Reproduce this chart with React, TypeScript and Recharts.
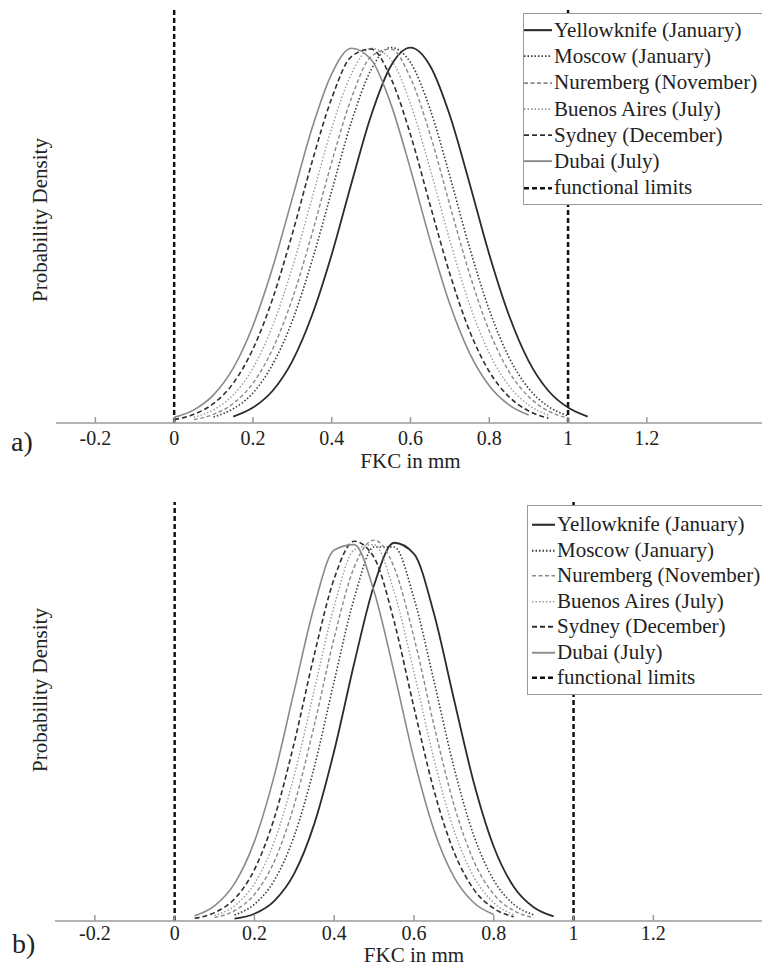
import { LineChart, Line, XAxis, YAxis, ReferenceLine } from "recharts";

const fkc = [0, 0.05, 0.1, 0.15, 0.2, 0.25, 0.3, 0.35, 0.4, 0.45, 0.5, 0.55, 0.6, 0.65, 0.7, 0.75, 0.8, 0.85, 0.9, 0.95, 1, 1.05, 1.1];
const xTicks = [-0.2, 0, 0.2, 0.4, 0.6, 0.8, 1, 1.2];
const functionalLimits = [0, 1];
const cityNames = [
  "Yellowknife (January)",
  "Moscow (January)",
  "Nuremberg (November)",
  "Buenos Aires (July)",
  "Sydney (December)",
  "Dubai (July)",
];
const _ = null;

// panel a) - relative probability density
const yellowknifeA = [_, _, _, 0.017, 0.041, 0.086, 0.165, 0.287, 0.449, 0.638, 0.819, 0.951, 1.0, 0.951, 0.819, 0.638, 0.449, 0.287, 0.165, 0.086, 0.041, 0.017, _];
const moscowA = [_, _, 0.016, 0.038, 0.08, 0.156, 0.272, 0.432, 0.618, 0.802, 0.941, 1.0, 0.96, 0.835, 0.657, 0.467, 0.301, 0.175, 0.092, 0.044, 0.019, _, _];
const nurembergA = [_, 0.009, 0.023, 0.052, 0.106, 0.197, 0.331, 0.504, 0.695, 0.865, 0.976, 0.996, 0.919, 0.768, 0.58, 0.397, 0.245, 0.137, 0.07, 0.032, 0.013, _, _];
const buenosAiresA = [_, 0.015, 0.035, 0.075, 0.146, 0.259, 0.414, 0.599, 0.785, 0.93, 0.998, 0.968, 0.85, 0.676, 0.486, 0.316, 0.186, 0.099, 0.048, 0.021, _, _, _];
const sydneyA = [0.009, 0.023, 0.052, 0.106, 0.197, 0.331, 0.504, 0.695, 0.865, 0.976, 0.996, 0.919, 0.768, 0.58, 0.397, 0.245, 0.137, 0.07, 0.032, 0.013, _, _, _];
const dubaiA = [0.015, 0.035, 0.075, 0.146, 0.259, 0.414, 0.599, 0.785, 0.93, 0.998, 0.968, 0.85, 0.676, 0.486, 0.316, 0.186, 0.099, 0.048, 0.021, _, _, _, _];

// panel b)
const yellowknifeB = [_, _, _, 0.006, 0.019, 0.053, 0.125, 0.255, 0.447, 0.676, 0.882, 0.993, 0.964, 0.807, 0.583, 0.363, 0.195, 0.09, 0.036, 0.012, _, _, _];
const moscowB = [_, _, _, 0.016, 0.044, 0.107, 0.224, 0.404, 0.63, 0.847, 0.982, 0.982, 0.847, 0.63, 0.404, 0.224, 0.107, 0.044, 0.016, _, _, _, _];
const nurembergB = [_, _, 0.009, 0.027, 0.07, 0.157, 0.306, 0.514, 0.744, 0.929, 1.0, 0.929, 0.744, 0.514, 0.306, 0.157, 0.07, 0.027, 0.009, _, _, _, _];
const buenosAiresB = [_, _, 0.014, 0.04, 0.098, 0.209, 0.383, 0.606, 0.827, 0.974, 0.988, 0.865, 0.653, 0.425, 0.239, 0.116, 0.048, 0.017, _, _, _, _, _];
const sydneyB = [_, 0.007, 0.022, 0.058, 0.135, 0.271, 0.469, 0.699, 0.899, 0.997, 0.954, 0.787, 0.56, 0.343, 0.182, 0.083, 0.033, 0.011, _, _, _, _, _];
const dubaiB = [_, 0.014, 0.04, 0.098, 0.209, 0.383, 0.606, 0.827, 0.974, 0.988, 0.865, 0.653, 0.425, 0.239, 0.116, 0.048, 0.017, _, _, _, _, _, _];

const keys = ["yellowknife", "moscow", "nuremberg", "buenosAires", "sydney", "dubai"];

const lineStyles = [
  { stroke: "#2b2b2b", width: 1.8, dash: undefined },
  { stroke: "#3a3a3a", width: 1.6, dash: "1.5 2" },
  { stroke: "#8a8a8a", width: 1.4, dash: "4 2.5" },
  { stroke: "#9a9a9a", width: 1.4, dash: "1.5 2" },
  { stroke: "#2f2f2f", width: 1.6, dash: "5 3" },
  { stroke: "#8a8a8a", width: 1.6, dash: undefined },
];

const FONT = '"Liberation Serif", "Times New Roman", serif';
const AXIS = "#9a9a9a";

function toRows(series: (number | null)[][]) {
  return fkc.map((x, i) => {
    const row: Record<string, number | null> = { fkc: x };
    keys.forEach((k, j) => {
      row[k] = series[j][i];
    });
    return row;
  });
}

type LegendProps = { left: number; top: number; rowH: number; padTop: number; padLeft: number; sampleW: number };

const LegendBox = ({ left, top, rowH, padTop, padLeft, sampleW }: LegendProps) => (
  <div
    style={{
      position: "absolute",
      left,
      top,
      width: 300,
      background: "#fff",
      border: "1px solid #999",
      padding: `${padTop}px 0 3px ${padLeft}px`,
      boxSizing: "border-box",
    }}
  >
    {cityNames.map((name, i) => (
      <div key={name} style={{ display: "flex", alignItems: "center", height: rowH }}>
        <svg width={sampleW} height={rowH}>
          <line x1={0} x2={sampleW} y1={rowH / 2} y2={rowH / 2} stroke={lineStyles[i].stroke} strokeWidth={lineStyles[i].width + 0.3} strokeDasharray={lineStyles[i].dash} />
        </svg>
        <span style={{ fontFamily: FONT, fontSize: 21, color: "#222", whiteSpace: "nowrap", marginLeft: 2 }}>{name}</span>
      </div>
    ))}
    <div style={{ display: "flex", alignItems: "center", height: rowH }}>
      <svg width={sampleW} height={rowH}>
        <line x1={0} x2={sampleW} y1={rowH / 2} y2={rowH / 2} stroke="#111" strokeWidth={2.5} strokeDasharray="5 3" />
      </svg>
      <span style={{ fontFamily: FONT, fontSize: 21, color: "#222", whiteSpace: "nowrap", marginLeft: 2 }}>functional limits</span>
    </div>
  </div>
);

type PanelProps = {
  series: (number | null)[][];
  width: number;
  height: number;
  left: number;
  axisH: number;
  tickMargin: number;
  labelOffset: number;
};

const Panel = ({ series, width, height, left, axisH, tickMargin, labelOffset }: PanelProps) => (
  <LineChart width={width} height={height} data={toRows(series)} margin={{ top: 10, right: 0, bottom: 0, left }}>
    <XAxis
      dataKey="fkc"
      type="number"
      domain={[-0.3, 1.5]}
      ticks={xTicks}
      allowDataOverflow
      height={axisH}
      tickSize={-6}
      tickMargin={tickMargin}
      stroke={AXIS}
      strokeWidth={1.5}
      tick={{ fill: "#222", fontSize: 20, fontFamily: FONT }}
      label={{ value: "FKC in mm", position: "insideBottom", offset: labelOffset, fill: "#222", fontSize: 21, fontFamily: FONT }}
    />
    <XAxis
      xAxisId="top"
      orientation="top"
      type="number"
      domain={[-0.3, 1.5]}
      ticks={xTicks}
      allowDataOverflow
      height={0}
      tickSize={-6}
      tick={false}
      stroke={AXIS}
      strokeWidth={1.5}
    />
    <YAxis domain={[0, 1.1]} width={0} tick={false} tickLine={false} stroke={AXIS} strokeWidth={1.5} />
    {keys.map((k, i) => (
      <Line
        key={k}
        dataKey={k}
        name={cityNames[i]}
        type="monotone"
        stroke={lineStyles[i].stroke}
        strokeWidth={lineStyles[i].width}
        strokeDasharray={lineStyles[i].dash}
        dot={false}
        activeDot={false}
        isAnimationActive={false}
      />
    ))}
    {functionalLimits.map((v) => (
      <ReferenceLine key={v} x={v} stroke="#111" strokeWidth={2.5} strokeDasharray="5 3" />
    ))}
  </LineChart>
);

const textStyle = { position: "absolute" as const, fontFamily: FONT, color: "#222", whiteSpace: "nowrap" as const, lineHeight: 1 };

export default function App() {
  return (
    <div style={{ position: "absolute", left: 0, top: 0, width: 762, height: 967, overflow: "hidden", background: "#fff" }}>
      <div style={{ position: "absolute", left: 0, top: 0 }}>
        <Panel
          series={[yellowknifeA, moscowA, nurembergA, buenosAiresA, sydneyA, dubaiA]}
          width={765}
          height={480}
          left={56}
          axisH={57}
          tickMargin={14}
          labelOffset={12}
        />
      </div>
      <div style={{ position: "absolute", left: 0, top: 492 }}>
        <Panel
          series={[yellowknifeB, moscowB, nurembergB, buenosAiresB, sydneyB, dubaiB]}
          width={773}
          height={475}
          left={55}
          axisH={46}
          tickMargin={11}
          labelOffset={5}
        />
      </div>
      <LegendBox left={523} top={13} rowH={26.3} padTop={3} padLeft={0} sampleW={28} />
      <LegendBox left={527} top={505} rowH={25.5} padTop={6} padLeft={4} sampleW={23} />
      <div style={{ ...textStyle, fontSize: 21, left: 40, top: 220, transform: "translate(-50%, -50%) rotate(-90deg)" }}>Probability Density</div>
      <div style={{ ...textStyle, fontSize: 21, left: 40, top: 690, transform: "translate(-50%, -50%) rotate(-90deg)" }}>Probability Density</div>
      <div style={{ ...textStyle, fontSize: 28, left: 11, top: 428 }}>a)</div>
      <div style={{ ...textStyle, fontSize: 28, left: 12, top: 930 }}>b)</div>
    </div>
  );
}
